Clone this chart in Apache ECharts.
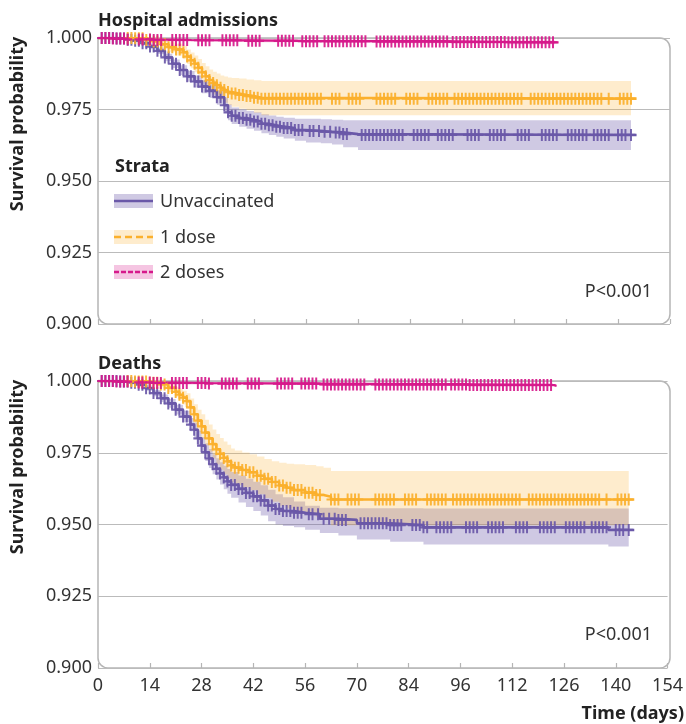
<!DOCTYPE html>
<html><head><meta charset="utf-8">
<script src="https://cdn.jsdelivr.net/npm/echarts@6/dist/echarts.min.js"></script>
<style>html,body{margin:0;padding:0;background:#fff}#c{width:686px;height:724px}</style>
</head><body><div id="c"></div>
<script>
// ---------- DATA ----------
var xTickLabels = ['0','14','28','42','56','70','84','96','112','126','140','154'];
var yTickLabels = ['0.900','0.925','0.950','0.975','1.000'];
var panelTitles = ['Hospital admissions','Deaths'];
var strata = ['Unvaccinated','1 dose','2 doses'];
var pValues = ['P<0.001','P<0.001'];

// Hospital admissions - Unvaccinated
var hospUnvDays = [0,5,8,10,12,14,16,18,20,22,24,26,28,30,32,34,35,36,38,40,42,44,46,48,50,53,56,60,63,66,70,143.5];
var hospUnvSurv = [1,0.9998,0.9994,0.9990,0.9982,0.9970,0.9955,0.9932,0.9910,0.9888,0.9866,0.9848,0.9830,0.9815,0.9793,0.9765,0.9740,0.9728,0.9720,0.9714,0.9708,0.9700,0.9695,0.9690,0.9685,0.9678,0.9675,0.9672,0.9670,0.9664,0.9661,0.9661];
var hospUnvLo   = [1,0.9996,0.9990,0.9985,0.9975,0.9961,0.9944,0.9919,0.9895,0.9871,0.9847,0.9827,0.9807,0.9790,0.9767,0.9738,0.9712,0.9699,0.9690,0.9683,0.9676,0.9667,0.9661,0.9655,0.9649,0.9641,0.9635,0.9632,0.9628,0.9618,0.9608,0.9608];
var hospUnvHi   = [1,1.0000,0.9998,0.9995,0.9989,0.9979,0.9966,0.9945,0.9925,0.9905,0.9885,0.9869,0.9853,0.9840,0.9819,0.9792,0.9768,0.9757,0.9750,0.9745,0.9740,0.9733,0.9729,0.9725,0.9721,0.9718,0.9718,0.9716,0.9714,0.9712,0.9712,0.9712];
var hospUnvEnd = 145;

// Hospital admissions - 1 dose
var hosp1Days = [0,10,13,15,17,19,21,23,24,25,26,27,28,29,30,31,32,33,34,35,36,38,40,42,44,143.5];
var hosp1Surv = [1,0.9999,0.9993,0.9988,0.9978,0.9968,0.9960,0.9950,0.9935,0.9922,0.9910,0.9896,0.9880,0.9866,0.9853,0.9843,0.9835,0.9826,0.9818,0.9811,0.9806,0.9801,0.9797,0.9791,0.9788,0.9788];
var hosp1Lo   = [1,0.9996,0.9986,0.9978,0.9964,0.9950,0.9939,0.9926,0.9909,0.9894,0.9880,0.9864,0.9846,0.9830,0.9815,0.9803,0.9794,0.9784,0.9774,0.9766,0.9760,0.9753,0.9747,0.9739,0.9730,0.9726];
var hosp1Hi   = [1,1.0000,0.9999,0.9997,0.9991,0.9985,0.9980,0.9973,0.9960,0.9949,0.9939,0.9927,0.9913,0.9901,0.9890,0.9882,0.9876,0.9869,0.9865,0.9862,0.9860,0.9858,0.9855,0.9852,0.9850,0.9850];
var hosp1End = 145;

// Hospital admissions - 2 doses
var hosp2Days = [0,4,8,15,25,40,55,75,95,110,123];
var hosp2Surv = [1,0.9998,0.9995,0.9993,0.9992,0.9990,0.9989,0.9988,0.9986,0.9985,0.9985];
var hosp2Lo   = [1,0.9995,0.9991,0.9988,0.9987,0.9985,0.9983,0.9982,0.9980,0.9978,0.9978];
var hosp2Hi   = [1,1.0000,0.9998,0.9997,0.9996,0.9995,0.9994,0.9994,0.9992,0.9991,0.9991];
var hosp2End = 124;

// Deaths - Unvaccinated
var deathUnvDays = [0,6,9,11,13,15,17,19,21,23,25,26,27,28,29,30,31,32,33,34,35,36,38,40,42,44,46,48,50,53,56,60,65,70,79,88,138,143.5];
var deathUnvSurv = [1,0.9998,0.9994,0.9987,0.9975,0.9958,0.9940,0.9922,0.9900,0.9876,0.9848,0.9830,0.9800,0.9775,0.9752,0.9730,0.9710,0.9694,0.9678,0.9664,0.9650,0.9638,0.9624,0.9610,0.9598,0.9584,0.9566,0.9554,0.9547,0.9541,0.9536,0.9520,0.9516,0.9504,0.9498,0.9490,0.9481,0.9481];
var deathUnvLo   = [1,0.9995,0.9989,0.9980,0.9966,0.9947,0.9927,0.9907,0.9883,0.9856,0.9825,0.9805,0.9773,0.9746,0.9721,0.9697,0.9675,0.9657,0.9639,0.9623,0.9607,0.9593,0.9577,0.9561,0.9547,0.9531,0.9511,0.9500,0.9495,0.9490,0.9482,0.9470,0.9462,0.9448,0.9440,0.9430,0.9423,0.9423];
var deathUnvHi   = [1,1.0000,0.9999,0.9994,0.9984,0.9969,0.9953,0.9937,0.9917,0.9896,0.9871,0.9855,0.9827,0.9804,0.9783,0.9763,0.9745,0.9731,0.9717,0.9705,0.9693,0.9683,0.9671,0.9659,0.9649,0.9637,0.9621,0.9605,0.9595,0.9580,0.9565,0.9558,0.9557,0.9557,0.9557,0.9556,0.9556,0.9556];
var deathUnvEnd = 145;

// Deaths - 1 dose
var death1Days = [0,10,14,17,19,21,22,23,24,25,26,27,28,29,30,31,32,33,34,35,36,37,39,41,43,45,47,49,51,53,56,59,61,63,143.5];
var death1Surv = [1,0.9998,0.9994,0.9988,0.9976,0.9962,0.9952,0.9942,0.9930,0.9908,0.9884,0.9862,0.9842,0.9820,0.9800,0.9780,0.9762,0.9746,0.9732,0.9720,0.9706,0.9698,0.9690,0.9682,0.9670,0.9659,0.9648,0.9636,0.9628,0.9620,0.9611,0.9603,0.9597,0.9587,0.9587];
var death1Lo   = [1,0.9994,0.9987,0.9978,0.9962,0.9944,0.9931,0.9918,0.9903,0.9877,0.9849,0.9824,0.9800,0.9775,0.9752,0.9729,0.9709,0.9691,0.9675,0.9662,0.9647,0.9638,0.9629,0.9619,0.9605,0.9592,0.9579,0.9565,0.9556,0.9547,0.9536,0.9526,0.9518,0.9497,0.9497];
var death1Hi   = [1,1.0000,1.0000,0.9998,0.9990,0.9980,0.9973,0.9966,0.9957,0.9939,0.9919,0.9900,0.9884,0.9865,0.9848,0.9831,0.9815,0.9801,0.9789,0.9778,0.9765,0.9758,0.9751,0.9745,0.9737,0.9728,0.9720,0.9715,0.9712,0.9710,0.9707,0.9703,0.9698,0.9686,0.9686];
var death1End = 145;

// Deaths - 2 doses
var death2Days = [0,5,10,15,30,60,100,123];
var death2Surv = [1,0.9998,0.9995,0.9993,0.9991,0.9988,0.9986,0.9983];
var death2Lo   = [1,0.9995,0.9991,0.9988,0.9986,0.9983,0.9980,0.9976];
var death2Hi   = [1,1.0000,0.9999,0.9998,0.9996,0.9993,0.9992,0.9990];
var death2End = 124;

// censoring times (days)
var censUnv = [1,2,3,4,5,6,7,8,9,10,11,12,13,14,15,16,17,18,19,20,21,22,23,24,25,26,27,28,29,30,31,32,33,34,35,36,37,38,39,40,41,42,43,44,45,46,47,48,49,50,51,52,53,54,55,57,58,59.5,61,62.5,64,65,66,67,71,72,73,74,75,76,77,78,79,80,81,82,85,86,87,88,89,91.5,92.5,93.5,94.5,95.5,99.5,100.5,101.5,102.5,105.5,106.5,107.5,108.5,109.5,113,114,115,116,119.5,120.5,121.5,122.5,123.5,126.5,127.5,128.5,129.5,130.5,131.5,133.5,134.5,135.5,136.5,137.5,140,141,142,143.5];
var cens1 = [8,9,10,11,12,13,14,15,16,17,18,19,20,21,22,23,24,25,26,27,28,29,30,31,32,33,34,35,36,37,38,39,40,41,42,43,44,45,46,47,48,49,50,51,52,53,54,55,56,57,58,59,60,63,64,65,67.5,68.5,69.5,70.5,75,76,77,78,79,80,83,84,85,86,89,90,91,92,93,94,96,97,98,99,100,101,102,103,104,105,106,107,108,109,110,111,112,113,114,116.5,117.5,118.5,119.5,120.5,121.5,122.5,123.5,124.5,125.5,126.5,127.5,128.5,129.5,130.5,131.5,132.5,133.5,134.5,135.5,137.5,140.5,141.5,142.5,143.5];
var cens2 = [1,2,3,4,5,6,7,8,11,12,14,15,16,17,20,21,22,23,24,27,28,29,30,33.5,34.5,35.5,36.5,37.5,40.5,41.5,42.5,43.5,48.5,49.5,50.5,51.5,52.5,55,56,57,58,59,61,62,63,64,65,66,67,68,69,70,71,72,75,76,77,78,79,80,81,82,83,84,85,86,87,88,89,90,91,92,93,94,95.5,96.5,97.5,98.5,99.5,100.5,101.5,102.5,103.5,104.5,105.5,106.5,107.5,108.5,109.5,110.5,111.5,112.5,113.5,114.5,115.5,116.5,117.5,118.5,119.5,120.5,121.5,122.5];

// ---------- STYLE ----------
var FONT = 'Noto Sans';
var colors = ['#6a58a8','#fbb02d','#d6198b'];
var bandColors = ['rgba(106,88,168,0.32)','rgba(251,176,45,0.24)','rgba(214,25,139,0.25)'];
var lineWidths = [2.6,2.6,2.2];
var G = [{left:98, top:38, width:572, height:286},{left:98, top:381, width:572, height:287}];

var curves = [
  [
    {days:hospUnvDays, surv:hospUnvSurv, lo:hospUnvLo, hi:hospUnvHi, end:hospUnvEnd, cens:censUnv},
    {days:hosp1Days, surv:hosp1Surv, lo:hosp1Lo, hi:hosp1Hi, end:hosp1End, cens:cens1},
    {days:hosp2Days, surv:hosp2Surv, lo:hosp2Lo, hi:hosp2Hi, end:hosp2End, cens:cens2}
  ],
  [
    {days:deathUnvDays, surv:deathUnvSurv, lo:deathUnvLo, hi:deathUnvHi, end:deathUnvEnd, cens:censUnv},
    {days:death1Days, surv:death1Surv, lo:death1Lo, hi:death1Hi, end:death1End, cens:cens1},
    {days:death2Days, surv:death2Surv, lo:death2Lo, hi:death2Hi, end:death2End, cens:cens2}
  ]
];

function kmAt(c, t){
  var v = c.surv[0];
  for (var i=0;i<c.days.length;i++){ if (c.days[i] <= t) v = c.surv[i]; }
  return v;
}

var series = [];
curves.forEach(function(panel, p){
  panel.forEach(function(c, k){
    series.push({
      type:'custom', xAxisIndex:p, yAxisIndex:p, silent:true, z:1,
      data:[[0, 1]],
      renderItem:function(params, api){
        var d=c.days, n=d.length, pts=[];
        for (var i=0;i<n;i++){ pts.push(api.coord([d[i], c.hi[i]])); if(i<n-1) pts.push(api.coord([d[i+1], c.hi[i]])); }
        for (var j=n-1;j>=0;j--){ if(j<n-1) pts.push(api.coord([d[j+1], c.lo[j]])); pts.push(api.coord([d[j], c.lo[j]])); }
        return {type:'polygon', shape:{points:pts}, style:{fill:bandColors[k]}};
      }
    });
  });
  panel.forEach(function(c, k){
    var data = c.days.map(function(d,i){ return [d, c.surv[i]]; });
    data.push([c.end, c.surv[c.surv.length-1]]);
    series.push({
      type:'line', xAxisIndex:p, yAxisIndex:p, step:'end', showSymbol:false, silent:true, z:3,
      data:data, lineStyle:{color:colors[k], width:lineWidths[k]}
    });
  });
  panel.forEach(function(c, k){
    series.push({
      type:'scatter', xAxisIndex:p, yAxisIndex:p, silent:true, z:4,
      symbol:'path://M-2.2,-10H2.2V-1.8H10V1.8H2.2V10H-2.2V1.8H-10V-1.8H-2.2Z',
      symbolSize:[9,12],
      itemStyle:{color:colors[k], opacity:0.92},
      data:c.cens.map(function(t){ return [t, kmAt(c, t)]; })
    });
  });
});

function xAxis(p){
  return {
    type:'value', gridIndex:p, min:0, max:154, interval:14,
    axisLine:{show:false}, splitLine:{show:false},
    axisTick:{show:true, inside:true, length:5, lineStyle:{color:'#b5b5b5', width:1.2}},
    axisLabel:{show:p===1, margin:9, fontFamily:FONT, fontSize:18, color:'#333',
      formatter:function(v){ return xTickLabels[Math.round(v/14)]; }}
  };
}
function yAxis(p){
  return {
    type:'value', gridIndex:p, min:0.9, max:1.0, interval:0.025,
    axisLine:{show:false}, axisTick:{show:false},
    splitLine:{show:true, lineStyle:{color:'#bbbbbb', width:1.2}},
    axisLabel:{margin:6, fontFamily:FONT, fontSize:18, color:'#333',
      formatter:function(v){ return yTickLabels[Math.round((v-0.9)/0.025)]; }}
  };
}

var graphic = [];
G.forEach(function(g, p){
  graphic.push({type:'rect', z:0, shape:{x:g.left, y:g.top, width:g.width, height:g.height, r:[0,10,10,10]},
    style:{fill:null, stroke:'#b5b5b5', lineWidth:1.5}, silent:true});
  graphic.push({type:'text', x:g.left, y:g.top-17, style:{text:panelTitles[p], font:'bold 18px "'+FONT+'"', fill:'#222', textVerticalAlign:'middle'}});
  graphic.push({type:'text', x:18, y:g.top+86, rotation:Math.PI/2, style:{text:'Survival probability', font:'bold 18px "'+FONT+'"', fill:'#222', textAlign:'center', textVerticalAlign:'middle'}});
  graphic.push({type:'text', x:652, y:g.top+254, style:{text:pValues[p], font:'18px "'+FONT+'"', fill:'#333', textAlign:'right', textVerticalAlign:'middle'}});
});
graphic.push({type:'text', x:684, y:714, style:{text:'Time (days)', font:'bold 18px "'+FONT+'"', fill:'#222', textAlign:'right', textVerticalAlign:'middle'}});
// legend
graphic.push({type:'text', x:115, y:167, z:10, style:{text:'Strata', font:'bold 18px "'+FONT+'"', fill:'#222', textVerticalAlign:'middle'}});
var legY = [201, 237, 272];
var legDash = [null, [7,4], [5,2]];
strata.forEach(function(s, k){
  graphic.push({type:'rect', z:10, shape:{x:114, y:legY[k]-7, width:39, height:14}, style:{fill:bandColors[k]}});
  graphic.push({type:'line', z:11, shape:{x1:114, y1:legY[k], x2:153, y2:legY[k]}, style:{stroke:colors[k], lineWidth:2.5, lineDash:legDash[k]}});
  graphic.push({type:'text', z:11, x:160, y:legY[k]+1, style:{text:s, font:'18px "'+FONT+'"', fill:'#333', textVerticalAlign:'middle'}});
});

var chart = echarts.init(document.getElementById('c'), null, {renderer:'canvas'});
chart.setOption({
  animation:false,
  backgroundColor:'#fff',
  grid:G.map(function(g){ return {left:g.left, top:g.top, width:g.width, height:g.height, containLabel:false}; }),
  xAxis:[xAxis(0), xAxis(1)],
  yAxis:[yAxis(0), yAxis(1)],
  graphic:graphic,
  series:series
});
</script>
</body></html>
